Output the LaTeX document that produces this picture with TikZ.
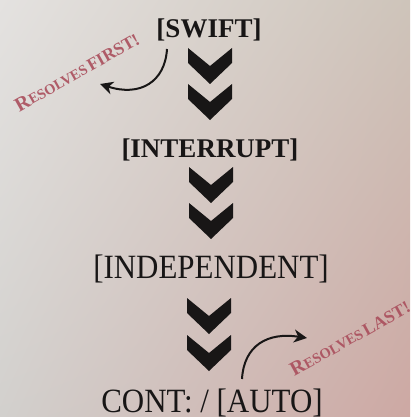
\documentclass[tikz,border=0pt]{standalone}
\usepackage{fontspec}
\setmainfont{Liberation Serif}
\usetikzlibrary{arrows.meta,shadings}
\definecolor{ink}{RGB}{24,22,22}
\definecolor{redlabel}{RGB}{170,78,92}
\definecolor{bgUL}{RGB}{228,226,224}
\definecolor{bgUR}{RGB}{206,196,186}
\definecolor{bgLL}{RGB}{210,208,205}
\definecolor{bgLR}{RGB}{205,168,163}
\tikzset{
  x=1pt, y=-1pt,
  boldlbl/.style={text=ink, font=\fontsize{27}{30}\selectfont\bfseries, anchor=base, inner sep=0pt},
  reglbl/.style={text=ink, font=\fontsize{34}{38}\selectfont, anchor=base, inner sep=0pt, xscale=0.91},
  notelbl/.style={text=redlabel, opacity=0.9, inner sep=0pt, font=\bfseries},
  bentarrow/.style={draw=ink, line width=2pt, -{Stealth[length=13pt,width=13pt,inset=4pt]}},
  chev/.pic={\fill[ink] (-22,0) -- (0,18) -- (22,0) -- (22,15) -- (0,36) -- (-22,15) -- cycle;}
}
\newcommand{\fsc}[3]{{\fontsize{20}{21}\selectfont #1}{\fontsize{14.5}{15}\selectfont #2} {\fontsize{17.5}{18}\selectfont #3}}
\begin{document}
\begin{tikzpicture}
\shade[upper left=bgUL, upper right=bgUR, lower left=bgLL, lower right=bgLR] (0,0) rectangle (410,417);
\useasboundingbox (0,0) rectangle (410,417);

% main labels
\node[boldlbl] (swift) at (209,38) {[SWIFT]};
\node[boldlbl] (interrupt) at (210,157) {[INTERRUPT]};
\node[reglbl] (independent) at (211,278) {[INDEPENDENT]};
\node[reglbl] (auto) at (212,412) {CONT: / [AUTO]};

% chevrons
\pic at (210,48) {chev};
\pic at (210,84) {chev};
\pic at (211,167) {chev};
\pic at (211,203) {chev};
\pic at (209,298) {chev};
\pic at (209,335) {chev};

% side notes
\node[notelbl, rotate=29.5] (first) at (77,72) {\fsc{R}{ESOLVES}{FIRST!}};
\node[notelbl, rotate=29] (last) at (350,338) {\fsc{R}{ESOLVES}{LAST!}};

% curved arrows
\coordinate (s1) at (167,49);
\coordinate (e1) at (100,84);
\coordinate (s2) at (242,379);
\coordinate (e2) at (307,338);
\draw[bentarrow] (s1) .. controls (165,82) and (140,97) .. (e1);
\draw[bentarrow] (s2) .. controls (244,345) and (268,332) .. (e2);
\end{tikzpicture}
\end{document}
